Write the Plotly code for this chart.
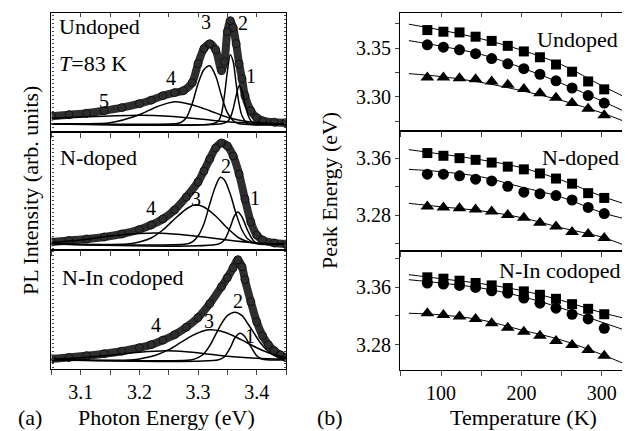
import plotly.graph_objects as go

# ---------- (a) PL spectra at 83 K (arb. units) ----------
# Undoped
E_und = [3.05, 3.08, 3.11, 3.14, 3.17, 3.20, 3.22, 3.24, 3.26, 3.275, 3.29, 3.30, 3.31, 3.32, 3.33,
         3.34, 3.345, 3.35, 3.355, 3.36, 3.365, 3.37, 3.375, 3.38, 3.39, 3.40, 3.41, 3.43, 3.45]
I_und = [7.4, 9, 10.5, 13, 16, 20, 23.5, 28, 31, 33, 41, 60, 75, 80, 74,
         53, 62, 92, 103, 96, 80, 60, 45, 28, 13, 6, 3, 1.5, 1]
und_c1_E = [3.05, 3.340, 3.350, 3.355, 3.360, 3.365, 3.370, 3.375, 3.380, 3.385, 3.390, 3.400, 3.45]
und_c1 = [0, 0, 2, 6, 15, 28, 38, 33, 20, 9, 3, 0, 0]
und_c2_E = [3.05, 3.325, 3.335, 3.340, 3.345, 3.350, 3.355, 3.360, 3.365, 3.370, 3.375, 3.385, 3.45]
und_c2 = [0, 0, 3, 10, 28, 52, 69, 62, 40, 20, 8, 0, 0]
und_c3_E = [3.05, 3.26, 3.27, 3.28, 3.29, 3.30, 3.31, 3.32, 3.33, 3.34, 3.35, 3.36, 3.37, 3.45]
und_c3 = [0, 0, 1, 6, 20, 40, 54, 58, 48, 28, 11, 3, 0, 0]
und_c4_E = [3.05, 3.10, 3.15, 3.20, 3.23, 3.26, 3.29, 3.32, 3.35, 3.38, 3.42, 3.45]
und_c4 = [0, 0, 1, 9, 17, 22, 19, 13, 6.5, 2.5, 0.5, 0]
und_c5_E = [3.05, 3.10, 3.15, 3.20, 3.25, 3.30, 3.35, 3.40, 3.45]
und_c5 = [5.5, 6.7, 7.7, 8.4, 7.5, 5, 2, 0.5, 0]

# N-doped
E_nd = [3.05, 3.08, 3.11, 3.14, 3.17, 3.20, 3.22, 3.24, 3.26, 3.28, 3.30, 3.31, 3.32, 3.33, 3.34,
        3.35, 3.36, 3.37, 3.38, 3.39, 3.40, 3.41, 3.43, 3.45]
I_nd = [2, 3.5, 5, 7, 10, 14.5, 19, 25, 34, 47, 62, 73, 85, 96, 101,
        98, 88, 70, 45, 22, 9, 4, 1, 0]
nd_c1_E = [3.05, 3.335, 3.345, 3.355, 3.362, 3.368, 3.375, 3.385, 3.395, 3.405, 3.45]
nd_c1 = [0, 0, 4, 17, 28, 32, 27, 13, 3, 0, 0]
nd_c2_E = [3.05, 3.28, 3.29, 3.30, 3.31, 3.32, 3.33, 3.338, 3.345, 3.355, 3.365, 3.375, 3.385, 3.40, 3.45]
nd_c2 = [0, 0, 2, 8, 20, 40, 58, 66.7, 64, 50, 30, 14, 5, 0.5, 0]
nd_c3_E = [3.05, 3.18, 3.20, 3.22, 3.24, 3.26, 3.28, 3.295, 3.31, 3.33, 3.35, 3.37, 3.39, 3.41, 3.45]
nd_c3 = [0, 0, 2, 6, 14, 25, 35, 39.3, 37, 28, 16, 6, 1.5, 0, 0]
nd_c4_E = [3.05, 3.10, 3.15, 3.20, 3.23, 3.27, 3.31, 3.35, 3.39, 3.43, 3.45]
nd_c4 = [1.5, 4, 8, 10.5, 11, 9.5, 7, 4, 1.5, 0.3, 0]

# N-In codoped
E_co = [3.05, 3.08, 3.11, 3.14, 3.17, 3.20, 3.22, 3.24, 3.26, 3.28, 3.30, 3.32, 3.34, 3.35, 3.36,
        3.368, 3.375, 3.38, 3.39, 3.40, 3.41, 3.42, 3.43, 3.44, 3.45]
I_co = [1, 2.3, 4, 6, 8.5, 12, 15, 19.5, 25, 32.5, 42, 56, 73, 82, 92,
        100, 93, 80, 58, 38, 24, 15, 9, 5, 2]
co_c1_E = [3.05, 3.335, 3.345, 3.355, 3.363, 3.372, 3.38, 3.39, 3.40, 3.41, 3.45]
co_c1 = [0, 0, 3, 12, 22, 26.5, 23, 13, 4, 0.5, 0]
co_c2_E = [3.05, 3.29, 3.30, 3.31, 3.32, 3.33, 3.34, 3.35, 3.363, 3.375, 3.385, 3.395, 3.405, 3.415, 3.43, 3.45]
co_c2 = [0, 0, 2, 6, 14, 25, 36, 44, 47.4, 44, 36, 27, 18, 11, 4, 1]
co_c3_E = [3.05, 3.19, 3.21, 3.23, 3.25, 3.27, 3.29, 3.31, 3.32, 3.34, 3.36, 3.38, 3.40, 3.42, 3.44, 3.45]
co_c3 = [0, 0, 2, 5, 10, 17, 24, 29, 30, 28.5, 24, 18, 12, 7, 3.5, 2.5]
co_c4_E = [3.05, 3.10, 3.15, 3.20, 3.245, 3.28, 3.32, 3.36, 3.40, 3.45]
co_c4 = [0.5, 2, 4.5, 7.5, 9, 8, 5.5, 3, 1.5, 0.5]

# ---------- (b) peak energy vs temperature (eV) ----------
temp = [83, 103, 123, 143, 163, 183, 203, 223, 243, 263, 283, 303]
temp_fit = [60, 100, 150, 200, 250, 300, 332]

und_sq = [3.3685, 3.3668, 3.3661, 3.3617, 3.3574, 3.3523, 3.3466, 3.3406, 3.3332, 3.3258, 3.3158, 3.3077]
und_ci = [3.3534, 3.3510, 3.3483, 3.3443, 3.3393, 3.3339, 3.3289, 3.3232, 3.3164, 3.3091, 3.3013, 3.2936]
und_tr = [3.3198, 3.3198, 3.3191, 3.3181, 3.3158, 3.3124, 3.3081, 3.3037, 3.2990, 3.2936, 3.2879, 3.2812]
und_sq_fit = [3.3745, 3.3685, 3.3595, 3.3480, 3.3330, 3.3115, 3.2985]
und_ci_fit = [3.3577, 3.3520, 3.3435, 3.3300, 3.3138, 3.2958, 3.2836]
und_tr_fit = [3.3238, 3.3208, 3.3148, 3.3064, 3.2963, 3.2836, 3.2735]

nd_sq = [3.3671, 3.3633, 3.3600, 3.3576, 3.3538, 3.3481, 3.3443, 3.3386, 3.3314, 3.3243, 3.3110, 3.3043]
nd_ci = [3.3376, 3.3376, 3.3352, 3.3305, 3.3281, 3.3205, 3.3124, 3.3100, 3.3076, 3.3014, 3.2910, 3.2824]
nd_tr = [3.2924, 3.2910, 3.2900, 3.2881, 3.2853, 3.2805, 3.2767, 3.2696, 3.2643, 3.2567, 3.2538, 3.2481]
nd_sq_fit = [3.3719, 3.3657, 3.3576, 3.3467, 3.3291, 3.3067, 3.2948]
nd_ci_fit = [3.3443, 3.3410, 3.3338, 3.3195, 3.3053, 3.2838, 3.2743]
nd_tr_fit = [3.2967, 3.2919, 3.2862, 3.2767, 3.2624, 3.2495, 3.2362]

co_sq = [3.3735, 3.3716, 3.3688, 3.3656, 3.3623, 3.3586, 3.3540, 3.3493, 3.3437, 3.3363, 3.3298, 3.3223]
co_ci = [3.3656, 3.3642, 3.3623, 3.3595, 3.3549, 3.3516, 3.3447, 3.3377, 3.3307, 3.3223, 3.3158, 3.3028]
co_tr = [3.3237, 3.3214, 3.3191, 3.3158, 3.3098, 3.3037, 3.2982, 3.2926, 3.2851, 3.2796, 3.2726, 3.2647]
co_sq_fit = [3.3772, 3.3716, 3.3647, 3.3553, 3.3414, 3.3245, 3.3158]
co_ci_fit = [3.3702, 3.3656, 3.3586, 3.3470, 3.3307, 3.3112, 3.2991]
co_tr_fit = [3.3237, 3.3214, 3.3144, 3.3005, 3.2865, 3.2665, 3.2517]

W, H = 630, 431
FONT = "Liberation Serif"


def px(x):
    return x / W


def py(y):
    return 1 - y / H


fig = go.Figure()

# left column: spectra
spectra = [
    ("1", E_und, I_und, [(und_c1_E, und_c1), (und_c2_E, und_c2), (und_c3_E, und_c3),
                         (und_c4_E, und_c4), (und_c5_E, und_c5)]),
    ("2", E_nd, I_nd, [(nd_c1_E, nd_c1), (nd_c2_E, nd_c2), (nd_c3_E, nd_c3), (nd_c4_E, nd_c4)]),
    ("3", E_co, I_co, [(co_c1_E, co_c1), (co_c2_E, co_c2), (co_c3_E, co_c3), (co_c4_E, co_c4)]),
]
for n, E, I, comps in spectra:
    xa, ya = "x" + n, "y" + n
    fig.add_trace(go.Scatter(x=E, y=I, xaxis=xa, yaxis=ya, mode="lines",
                             line=dict(color="#2e2e2e", width=8, shape="spline", smoothing=0.8)))
    fig.add_trace(go.Scatter(x=E, y=I, xaxis=xa, yaxis=ya, mode="markers",
                             marker=dict(symbol="circle-open", size=8, color="#111",
                                         line=dict(width=1))))
    for cE, cI in comps:
        fig.add_trace(go.Scatter(x=cE, y=cI, xaxis=xa, yaxis=ya, mode="lines",
                                 line=dict(color="black", width=1.5, shape="spline", smoothing=0.8)))

# right column: peak energies
peaks = [
    ("4", und_sq, und_ci, und_tr, und_sq_fit, und_ci_fit, und_tr_fit),
    ("5", nd_sq, nd_ci, nd_tr, nd_sq_fit, nd_ci_fit, nd_tr_fit),
    ("6", co_sq, co_ci, co_tr, co_sq_fit, co_ci_fit, co_tr_fit),
]
for n, sq, ci, tr, sqf, cif, trf in peaks:
    xa, ya = "x" + n, "y" + n
    for f in (sqf, cif, trf):
        fig.add_trace(go.Scatter(x=temp_fit, y=f, xaxis=xa, yaxis=ya, mode="lines",
                                 line=dict(color="black", width=1, shape="spline")))
    for vals, sym, size in ((sq, "square", 10), (ci, "circle", 11), (tr, "triangle-up", 12)):
        fig.add_trace(go.Scatter(x=temp, y=vals, xaxis=xa, yaxis=ya, mode="markers",
                                 marker=dict(symbol=sym, size=size, color="black")))

# dummy traces for the top tick rows
fig.add_trace(go.Scatter(x=[], y=[], xaxis="x7", yaxis="y1"))
fig.add_trace(go.Scatter(x=[], y=[], xaxis="x8", yaxis="y4"))

tick_font = dict(family=FONT, size=20, color="black")
e_ticks = [3.05, 3.10, 3.15, 3.20, 3.25, 3.30, 3.35, 3.40, 3.45]
e_text = ["", "3.1", "", "3.2", "", "3.3", "", "3.4", ""]
t_ticks = [50, 100, 150, 200, 250, 300]
t_text = ["", "100", "", "200", "", "300"]

left_dom = [px(43.4), px(278)]
right_dom = [px(392), px(626)]
left_rows = [(5, 124, [-8.3, 110.7]), (124, 242, [-6, 112]), (242, 361, [-9.3, 109.7])]
right_rows = [(5, 123, [3.265, 3.386], [3.275, 3.30, 3.325, 3.35, 3.375], ["", "3.30", "", "3.35", ""]),
              (123, 243, [3.23, 3.398], [3.24, 3.28, 3.32, 3.36], ["", "3.28", "", "3.36"]),
              (243, 362, [3.245, 3.41], [3.28, 3.32, 3.36, 3.40], ["3.28", "", "3.36", ""])]

lay = {}
for i, (top, bot, yr) in enumerate(left_rows):
    k = str(i + 1)
    lay["xaxis" + k] = dict(domain=left_dom, anchor="y" + k, range=[3.05, 3.45],
                            tickvals=e_ticks, ticktext=e_text if i == 2 else [""] * 9,
                            ticks="outside", ticklen=5, tickwidth=1, showline=True, linecolor="black",
                            linewidth=1.2, mirror=True, showgrid=False, zeroline=False, tickfont=tick_font)
    lay["yaxis" + k] = dict(domain=[py(bot), py(top)], anchor="x" + k, range=yr, dtick=4,
                            ticks="inside", ticklen=2, tickwidth=0.8, showticklabels=False,
                            showline=True, linecolor="black", linewidth=1.2, mirror="ticks",
                            showgrid=False, zeroline=False)
for i, (top, bot, yr, tv, tt) in enumerate(right_rows):
    k = str(i + 4)
    lay["xaxis" + k] = dict(domain=right_dom, anchor="y" + k, range=[49, 340],
                            tickvals=t_ticks, ticktext=t_text if i == 2 else [""] * 6,
                            ticks="outside", ticklen=5, tickwidth=1, showline=True, linecolor="black",
                            linewidth=1.2, mirror=True, showgrid=False, zeroline=False, tickfont=tick_font)
    lay["yaxis" + k] = dict(domain=[py(bot), py(top)], anchor="x" + k, range=yr,
                            tickvals=tv, ticktext=tt, ticks="outside", ticklen=4, tickwidth=1,
                            showline=True, linecolor="black", linewidth=1.2, mirror=True,
                            showgrid=False, zeroline=False, tickfont=tick_font)
lay["xaxis7"] = dict(overlaying="x1", anchor="y1", side="top", range=[3.05, 3.45], tickvals=e_ticks,
                     showticklabels=False, ticks="inside", ticklen=4, showline=False,
                     showgrid=False, zeroline=False)
lay["xaxis8"] = dict(overlaying="x4", anchor="y4", side="top", range=[49, 340], tickvals=t_ticks,
                     showticklabels=False, ticks="inside", ticklen=4, showline=False,
                     showgrid=False, zeroline=False)


def ann(text, x, y, size=22, xanchor="center", angle=0):
    return dict(text=text, x=px(x), y=py(y), xref="paper", yref="paper", showarrow=False,
                xanchor=xanchor, yanchor="middle", textangle=angle,
                font=dict(family=FONT, size=size, color="black"))


annotations = [
    ann("Undoped", 49, 18, xanchor="left"),
    ann("<i>T</i>=83 K", 49, 55, xanchor="left"),
    ann("5", 96, 93, 20), ann("4", 163, 70, 20), ann("3", 198, 14, 20),
    ann("2", 235, 15, 20), ann("1", 243, 68, 20),
    ann("N-doped", 50, 150, xanchor="left"),
    ann("4", 143, 200, 20), ann("3", 188, 191, 20), ann("2", 218, 158, 20), ann("1", 247, 190, 20),
    ann("N-In codoped", 52, 269, xanchor="left"),
    ann("4", 148, 317, 20), ann("3", 201, 313, 20), ann("2", 230, 293, 20), ann("1", 242, 328, 20),
    ann("Undoped", 612, 31, xanchor="right"),
    ann("N-doped", 613, 150, xanchor="right"),
    ann("N-In codoped", 615, 262, xanchor="right"),
    ann("PL Intensity (arb. units)", 22, 183, angle=-90),
    ann("Peak Energy (eV)", 321, 183, angle=-90),
    ann("Photon Energy (eV)", 158, 409),
    ann("Temperature (K)", 515, 409),
    ann("(a)", 22, 409),
    ann("(b)", 322, 409),
]

fig.update_layout(width=W, height=H, margin=dict(l=0, r=0, t=0, b=0), showlegend=False,
                  plot_bgcolor="white", paper_bgcolor="white", annotations=annotations, **lay)
fig.write_html("out.html")
